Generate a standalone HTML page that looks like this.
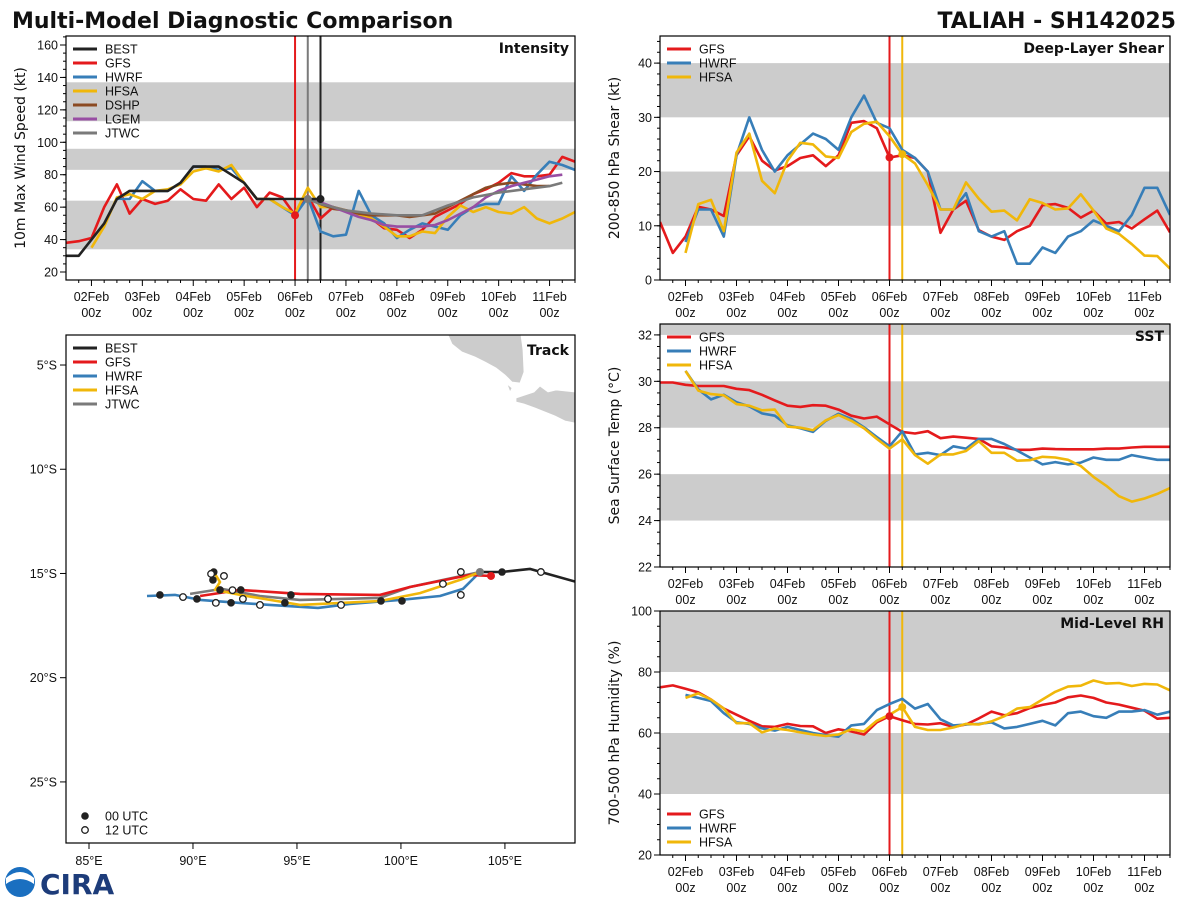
<!DOCTYPE html>
<html><head><meta charset="utf-8"><style>
html,body{margin:0;padding:0;background:#fff}
svg{display:block}
text{font-family:"DejaVu Sans","Liberation Sans",sans-serif}
.tk{font-family:"Liberation Sans",sans-serif;font-size:12.5px;fill:#111}
.lg{font-family:"Liberation Sans",sans-serif;font-size:12.5px;fill:#111}
</style></head><body>
<svg id="fig" width="1200" height="900" viewBox="0 0 1200 900" xmlns="http://www.w3.org/2000/svg">
<text x="12" y="28" font-size="22" font-weight="bold" fill="#111">Multi-Model Diagnostic Comparison</text>
<text x="1176" y="28" font-size="22" font-weight="bold" fill="#111" text-anchor="end">TALIAH - SH142025</text>
<g>
<circle cx="20" cy="882" r="15" fill="#1a6fc0"/>
<path d="M6 884 Q20 874 34 884 L34 878 Q20 866 6 878 Z" fill="#fff"/>
<text x="40" y="894" font-size="28" font-weight="bold" fill="#1d3c7a" font-family="Liberation Serif,serif">CIRA</text>
</g>
</svg>
<script>
// ---------- data ----------
const dayLabels = ["02Feb","03Feb","04Feb","05Feb","06Feb","07Feb","08Feb","09Feb","10Feb","11Feb"];
const intBestT0 = -12;
const intBest = [30,30,40,50,65,70,70,70,70,75,85,85,85,80,75,65,65,65,65,65,65];
const intGfsT0 = -12;
const intGfs = [38,39,41,60,74,56,65,62,64,71,65,64,74,65,72,60,69,66,55,67,53,60,58,56,53,47,46,41,46,54,58,62,68,71,75,81,79,79,80,91,88];
const intHwrfT0 = 12;
const intHwrf = [65,65,76,70,70,75,85,85,83,84,75,65,65,60,55,66,45,42,43,70,55,50,41,46,50,48,46,55,60,62,62,79,70,80,88,86,83];
const intHfsaT0 = 0;
const intHfsa = [35,48,66,68,65,70,71,74,82,84,82,86,75,65,65,60,56,72,60,60,58,55,53,48,42,42,45,44,54,61,57,60,57,56,60,53,50,53,57];
const intDshpT0 = 102;
const intDshp = [65,62,59,58,56,55,55,55,54,55,56,60,64,68,72,74,75,74,73,73];
const intLgemT0 = 102;
const intLgem = [65,63,60,57,54,52,49,48,48,48,49,52,56,60,66,70,73,75,77,79,80];
const intJtwcHours = [102,108,120,132,144,156,168,180,192,204,216,222];
const intJtwc = [65,62,58,56,55,55,61,66,69,71,73,75];
const shrGfsT0 = -12;
const shrGfs = [10.7,5,8,13.5,13,11.8,23,26.5,22,20.2,21,22.5,23,21,23,29,29.3,28,22.6,23,22.5,20,8.7,13,14.6,9.2,8,7.4,9,10,13.8,14,13.3,11.5,12.8,10.4,10.7,9.5,11.2,12.8,8.8];
const shrHwrfT0 = 0;
const shrHwrf = [7,13,13,8,23,30,24,20,23,25,27,26,24,30,34,29,28,24,22.5,20,13,13,16,9,8,9,3,3,6,5,8,9,11,10,9,12,17,17,12];
const shrHfsaT0 = 0;
const shrHfsa = [5,14,14.8,9,23.5,27,18.3,16,22,25.3,25,22.8,22.5,27.3,28.8,29.2,26.5,23.2,21.5,17.5,13,13,18,15,12.6,12.8,11,14.9,14.2,13,13.2,15.8,12.8,9.5,8.5,6.6,4.5,4.4,2.1];
const sstGfsT0 = -12;
const sstGfs = [29.95,29.95,29.85,29.8,29.8,29.8,29.68,29.62,29.42,29.18,28.95,28.9,28.97,28.95,28.78,28.52,28.4,28.48,28.15,27.82,27.75,27.85,27.55,27.62,27.57,27.52,27.2,27.15,27.05,27.05,27.1,27.08,27.07,27.07,27.07,27.1,27.1,27.15,27.18,27.18,27.18];
const sstHwrfT0 = 0;
const sstHwrf = [30.45,29.65,29.22,29.42,29.1,28.92,28.62,28.52,28.1,27.98,27.82,28.3,28.6,28.38,28.02,27.6,27.2,27.85,26.85,26.92,26.82,27.2,27.1,27.52,27.52,27.3,27.02,26.72,26.42,26.52,26.42,26.5,26.72,26.62,26.62,26.82,26.72,26.62,26.62];
const sstHfsaT0 = 0;
const sstHfsa = [30.45,29.6,29.45,29.4,29.02,28.95,28.75,28.78,28.05,28.0,27.9,28.32,28.55,28.3,27.98,27.52,27.1,27.5,26.82,26.45,26.85,26.85,27.0,27.42,26.92,26.92,26.58,26.6,26.75,26.72,26.62,26.35,25.88,25.5,25.05,24.82,24.95,25.15,25.4];
const rhGfsT0 = -12;
const rhGfs = [75,75.6,74.5,73.3,71,68,66,64,62.2,62,63,62.3,62.2,60,61.2,60.5,59.5,63.5,65.5,64.2,63,62.8,63.2,62,62.8,64.8,67,65.8,66.5,68.2,69.2,70,71.7,72.3,71.5,70,69.3,68.3,67.3,64.7,65];
const rhHwrfT0 = 0;
const rhHwrf = [72.5,71.5,70.5,66.5,63.5,63,61.5,60.8,62,61,60,59.3,58.8,62.5,63,67.5,69.5,71.2,68,69.5,64.5,62.5,62.8,63,63.5,61.5,62,63,64,62.5,66.5,67,65.5,65,67,67,67.5,66,67];
const rhHfsaT0 = 0;
const rhHfsa = [71.5,73,71,68,63.2,63.2,60.2,61.5,61,60.2,59.5,59,59.5,61.2,60.5,64,66,68.5,62,61,61,61.8,63,62.8,63.8,65.5,68,68.5,71,73.5,75.2,75.5,77.2,76.2,76.4,75.4,76.1,75.9,74];
const trkBestLon = [103.8,104.86,106.2,106.73,108.6];
const trkBestLat = [-14.93,-14.93,-14.78,-14.93,-15.45];
const trkGfsLon = [90.34,92.26,95.14,98.99,100.43,103.32,104.33];
const trkGfsLat = [-16.08,-15.79,-15.98,-16.03,-15.65,-15.07,-15.12];
const trkHwrfLon = [87.79,89.13,90.34,92.26,93.70,96.01,97.55,99.95,101.88,102.98,103.8];
const trkHwrfLat = [-16.08,-16.03,-16.27,-16.41,-16.51,-16.65,-16.46,-16.27,-16.08,-15.74,-14.93];
const trkHfsaLon = [90.91,91.30,91.06,92.26,95.14,98.99,100.91,102.84,103.8];
const trkHfsaLat = [-14.78,-15.41,-15.79,-16.03,-16.51,-16.32,-15.94,-15.31,-14.93];
const trkJtwcLon = [89.86,91.39,93.22,95.14,98.99,100.43,103.8];
const trkJtwcLat = [-15.98,-15.74,-16.08,-16.27,-16.17,-15.65,-14.93];
const dot00Lon = [88.41,90.19,91.0,90.96,91.3,91.83,92.3,94.42,94.71,99.04,100.05,104.86];
const dot00Lat = [-16.03,-16.22,-14.93,-15.31,-15.79,-16.41,-15.79,-16.41,-16.03,-16.32,-16.32,-14.93];
const dot12Lon = [89.52,90.87,91.49,91.1,92.4,93.22,96.49,97.12,102.02,102.88,102.88,106.73,91.9];
const dot12Lat = [-16.13,-15.02,-15.12,-16.41,-16.22,-16.51,-16.22,-16.51,-15.5,-16.03,-14.93,-14.93,-15.8];
const latTicks = [-5,-10,-15,-20,-25];
const lonTicks = [85,90,95,100,105];

const NS="http://www.w3.org/2000/svg";
const svg=document.getElementById('fig');
const C={BEST:"#222222",GFS:"#e41a1c",HWRF:"#377eb8",HFSA:"#f0b70a",DSHP:"#8b4a22",LGEM:"#984ea3",JTWC:"#7a7a7a"};
function mk(tag,attrs,parent){const e=document.createElementNS(NS,tag);for(const k in attrs)e.setAttribute(k,attrs[k]);(parent||svg).appendChild(e);return e;}
function txt(x,y,s,cls,anchor,parent){const t=mk('text',{x:x,y:y,class:cls,'text-anchor':anchor||'start'},parent);t.textContent=s;return t;}

function timePanel(cfg){
  const g=mk('g',{});
  
  
  const tmin=-12,tmax=228;
  const X=t=>cfg.x0+(t-tmin)/(tmax-tmin)*(cfg.x1-cfg.x0);
  const Y=v=>cfg.y1-(v-cfg.ymin)/(cfg.ymax-cfg.ymin)*(cfg.y1-cfg.y0);
  const clipId='clip-'+cfg.name;
  const cp=mk('clipPath',{id:clipId},g);mk('rect',{x:cfg.x0,y:cfg.y0,width:cfg.x1-cfg.x0,height:cfg.y1-cfg.y0},cp);
  const body=mk('g',{'clip-path':'url(#'+clipId+')'},g);
  cfg.bands.forEach(b=>{
    const r=mk('rect',{x:cfg.x0,y:Y(Math.min(b[1],cfg.ymax)),width:cfg.x1-cfg.x0,height:Y(b[0])-Y(Math.min(b[1],cfg.ymax)),fill:'#cccccc'},body);
    
    
  });
  cfg.vlines.forEach(v=>{
    const l=mk('line',{x1:X(v[0]),x2:X(v[0]),y1:cfg.y0,y2:cfg.y1,stroke:v[1],'stroke-width':2},body);
    
    
  });
  cfg.series.forEach(s=>{
    const hrs=s.hours||s.vals.map((_,i)=>s.t0+6*i);
    const d=s.vals.map((v,i)=>(i?'L':'M')+X(hrs[i]).toFixed(1)+' '+Y(v).toFixed(1)).join(' ');
    const p=mk('path',{d:d,fill:'none',stroke:C[s.m],'stroke-width':2.6,'stroke-linejoin':'round'},body);
    
    
  });
  cfg.dots.forEach(dd=>{
    const c=mk('circle',{cx:X(dd[0]),cy:Y(dd[1]),r:4,fill:C[dd[2]]},body);
    
    
  });
  const fr=mk('rect',{x:cfg.x0,y:cfg.y0,width:cfg.x1-cfg.x0,height:cfg.y1-cfg.y0,fill:'none',stroke:'#000','stroke-width':1.2},g);
  
  
  for(let t=-6;t<=228;t+=6){
    const major=(t%24===0);
    mk('line',{x1:X(t),x2:X(t),y1:cfg.y1,y2:cfg.y1+(major?6:3),stroke:'#000','stroke-width':1},g);
  }
  dayLabels.forEach((lab,i)=>{
    const t1=txt(X(24*i),cfg.y1+21,lab,'tk','middle',g);
    
    
    const t2=txt(X(24*i),cfg.y1+37,'00z','tk','middle',g);
    
    
  });
  for(let v=cfg.minorStart;v<=cfg.ymax;v+=cfg.minor){
    if(v<cfg.ymin)continue;
    mk('line',{x1:cfg.x0-3,x2:cfg.x0,y1:Y(v),y2:Y(v),stroke:'#000','stroke-width':1},g);
  }
  cfg.yticks.forEach(v=>{
    mk('line',{x1:cfg.x0-6,x2:cfg.x0,y1:Y(v),y2:Y(v),stroke:'#000','stroke-width':1},g);
    const t=txt(cfg.x0-8,Y(v)+4.5,String(v),'tk','end',g);
    
    
  });
  const yl=mk('text',{x:0,y:0,'font-size':14,fill:'#111','text-anchor':'middle',transform:`translate(${cfg.x0-41},${(cfg.y0+cfg.y1)/2}) rotate(-90)`},g);
  yl.textContent=cfg.ylabel;
  
  
  const ti=mk('text',{x:cfg.x1-6,y:cfg.y0+17,'font-size':14,'font-weight':'bold',fill:'#111','text-anchor':'end'},g);
  ti.textContent=cfg.title;
  
  
  legend(g,cfg.x0+7,cfg.legY,cfg.legStep,cfg.legend);
}
function legend(g,x,y,step,names){
  names.forEach((n,i)=>{
    const e=mk('g',{},g);
    
    
    mk('line',{x1:x,x2:x+24,y1:y+i*step,y2:y+i*step,stroke:C[n],'stroke-width':3},e);
    txt(x+32,y+i*step+4.5,n,'lg','start',e);
  });
}

timePanel({name:'intensity-panel',x0:66,x1:575,y0:36,y1:280,ymin:15.07,ymax:165.55,
  bands:[[34,64],[83,96],[113,137]],yticks:[20,40,60,80,100,120,140,160],minor:5,minorStart:20,
  vlines:[[96,C.GFS],[102,C.JTWC],[108,C.BEST]],
  series:[{m:'GFS',t0:intGfsT0,vals:intGfs},{m:'HWRF',t0:intHwrfT0,vals:intHwrf},{m:'HFSA',t0:intHfsaT0,vals:intHfsa},
          {m:'DSHP',t0:intDshpT0,vals:intDshp},{m:'LGEM',t0:intLgemT0,vals:intLgem},{m:'JTWC',hours:intJtwcHours,vals:intJtwc},{m:'BEST',t0:intBestT0,vals:intBest}],
  dots:[[96,55,'GFS'],[102,65,'JTWC'],[108,65,'BEST']],
  ylabel:'10m Max Wind Speed (kt)',title:'Intensity',legY:49,legStep:14,legend:['BEST','GFS','HWRF','HFSA','DSHP','LGEM','JTWC']});
timePanel({name:'shear-panel',x0:660,x1:1170,y0:36,y1:280,ymin:0,ymax:45,
  bands:[[10,20],[30,40]],yticks:[0,10,20,30,40],minor:2,minorStart:0,
  vlines:[[96,C.GFS],[102,C.HFSA]],
  series:[{m:'GFS',t0:shrGfsT0,vals:shrGfs},{m:'HWRF',t0:shrHwrfT0,vals:shrHwrf},{m:'HFSA',t0:shrHfsaT0,vals:shrHfsa}],
  dots:[[96,22.6,'GFS'],[102,23.2,'HFSA']],
  ylabel:'200-850 hPa Shear (kt)',title:'Deep-Layer Shear',legY:49,legStep:14,legend:['GFS','HWRF','HFSA']});
timePanel({name:'sst-panel',x0:660,x1:1170,y0:324,y1:567,ymin:22,ymax:32.47,
  bands:[[24,26],[28,30],[32,34]],yticks:[22,24,26,28,30,32],minor:0.5,minorStart:22,
  vlines:[[96,C.GFS],[102,C.HFSA]],
  series:[{m:'GFS',t0:sstGfsT0,vals:sstGfs},{m:'HWRF',t0:sstHwrfT0,vals:sstHwrf},{m:'HFSA',t0:sstHfsaT0,vals:sstHfsa}],
  dots:[],
  ylabel:'Sea Surface Temp (°C)',title:'SST',legY:337,legStep:14,legend:['GFS','HWRF','HFSA']});
timePanel({name:'rh-panel',x0:660,x1:1170,y0:611,y1:855,ymin:20,ymax:100,
  bands:[[40,60],[80,100]],yticks:[20,40,60,80,100],minor:5,minorStart:20,
  vlines:[[96,C.GFS],[102,C.HFSA]],
  series:[{m:'GFS',t0:rhGfsT0,vals:rhGfs},{m:'HWRF',t0:rhHwrfT0,vals:rhHwrf},{m:'HFSA',t0:rhHfsaT0,vals:rhHfsa}],
  dots:[[96,65.5,'GFS'],[102,68.5,'HFSA']],
  ylabel:'700-500 hPa Humidity (%)',title:'Mid-Level RH',legY:814,legStep:14,legend:['GFS','HWRF','HFSA']});

(function(){
  const x0=66,x1=575,y0=335,y1=843,lonMin=83.894,lonMax=108.37,latTop=-3.56,latBot=-27.93;
  const X=l=>x0+(l-lonMin)/(lonMax-lonMin)*(x1-x0);
  const Y=l=>y0+(latTop-l)/(latTop-latBot)*(y1-y0);
  const g=mk('g',{});
  
  
  const cp=mk('clipPath',{id:'clip-track'},g);mk('rect',{x:x0,y:y0,width:x1-x0,height:y1-y0},cp);
  const body=mk('g',{'clip-path':'url(#clip-track)'},g);
  const land=mk('g',{fill:'#cccccc',stroke:'#fff','stroke-width':0.8},body);
  
  
  mk('path',{d:'M448 335 L452 344 L462 352 L475 357 L485 362 L496 368 L505 375 L512 382 L520 383 L524 372 L523 350 L521 335 Z'},land);
  mk('path',{d:'M516 398 L525 395 L534 392 L540 386 L548 392 L556 390 L575 392 L575 423 L565 421 L555 416 L545 412 L535 408 L524 404 L516 402 Z'},land);
  mk('path',{d:'M507 384 L512 388 L510 392 Z'},land);
  const tracks=[['JTWC',trkJtwcLon,trkJtwcLat],['HWRF',trkHwrfLon,trkHwrfLat],['GFS',trkGfsLon,trkGfsLat],['HFSA',trkHfsaLon,trkHfsaLat],['BEST',trkBestLon,trkBestLat]];
  tracks.forEach(tr=>{
    const d=tr[1].map((v,i)=>(i?'L':'M')+X(v).toFixed(1)+' '+Y(tr[2][i]).toFixed(1)).join(' ');
    const p=mk('path',{d:d,fill:'none',stroke:C[tr[0]],'stroke-width':2.6,'stroke-linejoin':'round'},body);
    
    
  });
  dot00Lon.forEach((v,i)=>{
    const c=mk('circle',{cx:X(v),cy:Y(dot00Lat[i]),r:3.8,fill:'#222'},body);
    
    
  });
  dot12Lon.forEach((v,i)=>{
    const c=mk('circle',{cx:X(v),cy:Y(dot12Lat[i]),r:3.3,fill:'#fff',stroke:'#222','stroke-width':1.3},body);
    
    
  });
  const gd=mk('circle',{cx:X(trkGfsLon[trkGfsLon.length-1]),cy:Y(trkGfsLat[trkGfsLat.length-1]),r:4,fill:C.GFS},body);
  
  
  const jd=mk('circle',{cx:X(trkJtwcLon[trkJtwcLon.length-1]),cy:Y(trkJtwcLat[trkJtwcLat.length-1]),r:4,fill:C.JTWC},body);
  
  
  const fr=mk('rect',{x:x0,y:y0,width:x1-x0,height:y1-y0,fill:'none',stroke:'#000','stroke-width':1.2},g);
  
  
  latTicks.forEach(l=>{
    mk('line',{x1:x0-6,x2:x0,y1:Y(l),y2:Y(l),stroke:'#000'},g);
    const t=txt(x0-9,Y(l)+4.5,Math.abs(l)+'°S','tk','end',g);
    
    
  });
  lonTicks.forEach(l=>{
    mk('line',{x1:X(l),x2:X(l),y1:y1,y2:y1+6,stroke:'#000'},g);
    const t=txt(X(l),y1+22,l+'°E','tk','middle',g);
    
    
  });
  const ti=mk('text',{x:x1-6,y:y0+20,'font-size':14,'font-weight':'bold',fill:'#111','text-anchor':'end'},g);
  ti.textContent='Track';
  
  
  legend(g,x0+7,348,14,['BEST','GFS','HWRF','HFSA','JTWC']);
  const l1=mk('g',{},g);
  
  
  mk('circle',{cx:85,cy:816,r:3.8,fill:'#222'},l1);
  txt(105,820.5,'00 UTC','lg','start',l1);
  const l2=mk('g',{},g);
  
  
  mk('circle',{cx:85,cy:830,r:3.3,fill:'#fff',stroke:'#222','stroke-width':1.3},l2);
  txt(105,834.5,'12 UTC','lg','start',l2);
})();
</script>
</body></html>
